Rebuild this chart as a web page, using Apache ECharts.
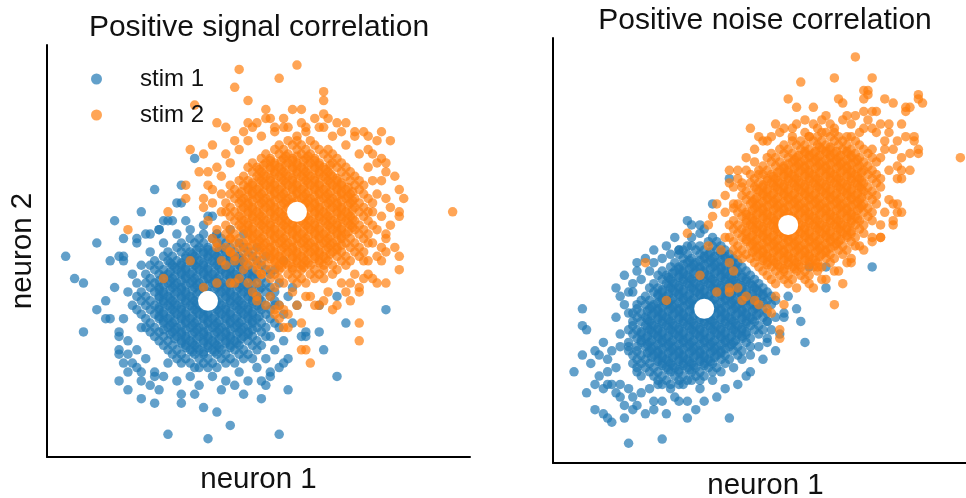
<!DOCTYPE html>
<html>
<head>
<meta charset="utf-8">
<script src="https://cdn.jsdelivr.net/npm/echarts@6/dist/echarts.min.js"></script>
<style>html,body{margin:0;padding:0;background:#fff;}#chart{width:966px;height:498px;}</style>
</head>
<body>
<div id="chart"></div>
<script>
const seriesNames = ['stim 1', 'stim 2'];
const panelTitles = ['Positive signal correlation', 'Positive noise correlation'];
const axisNames = ['neuron 1', 'neuron 2'];
const p1Means = [[0, 0], [20, 20]];
const p2Means = [[0, 0], [20, 20]];

// dense cores: each row is [y, [x values read along that row]]
const p1Stim1Core = [
[-15,[-3,0,2]],
[-14,[-6,-4,-1,1,4,6]],
[-13,[-7,-5,-2,0,3,5,8]],
[-12,[-8,-6,-3,-1,2,4,7,9]],
[-11,[-9,-7,-4,-2,1,3,6,8,11]],
[-10,[-10,-8,-5,-3,0,2,5,7,10,12]],
[-9,[-11,-9,-6,-4,-1,1,4,6,9,11]],
[-8,[-12,-10,-7,-5,-2,0,3,5,8,10,13]],
[-7,[-13,-11,-8,-6,-3,-1,2,4,7,9,12]],
[-6,[-14,-12,-9,-7,-4,-2,1,3,6,8,11,13]],
[-5,[-13,-10,-8,-5,-3,0,2,5,7,10,12,15]],
[-4,[-14,-11,-9,-6,-4,-1,1,4,6,9,11,14]],
[-3,[-15,-12,-10,-7,-5,-2,0,3,5,8,10,13]],
[-2,[-16,-13,-11,-8,-6,-3,-1,2,4,7,9,12,14]],
[-1,[-14,-12,-9,-7,-4,-2,1,3,6,8,11,13,16]],
[0,[-15,-13,-10,-8,-5,-3,0,2,5,7,10,12,15]],
[1,[-16,-14,-11,-9,-6,-4,-1,1,4,6,9,11,14]],
[2,[-15,-12,-10,-7,-5,-2,0,3,5,8,10,13,15]],
[3,[-13,-11,-8,-6,-3,-1,2,4,7,9,12,14]],
[4,[-14,-12,-9,-7,-4,-2,1,3,6,8,11,13]],
[5,[-13,-10,-8,-5,-3,0,2,5,7,10,12]],
[6,[-14,-11,-9,-6,-4,-1,1,4,6,9,11,14]],
[7,[-12,-10,-7,-5,-2,0,3,5,8,10,13]],
[8,[-13,-11,-8,-6,-3,-1,2,4,7,9,12]],
[9,[-12,-9,-7,-4,-2,1,3,6,8,11]],
[10,[-10,-8,-5,-3,0,2,5,7,10]],
[11,[-9,-6,-4,-1,1,4,6,9]],
[12,[-7,-5,-2,0,3,5,8]],
[13,[-6,-3,-1,2,4,7]],
[14,[-4,-2,1,3]],
[15,[-1,2]]
];
const p1Stim1Inner = [
[-11.5,[-3.5,-1,1.5]],
[-10.5,[-5,-2.5,0,2.5,5]],
[-9.5,[-6,-3.5,-1,1.5,4,6.5]],
[-8.5,[-7.5,-5,-2.5,0,2.5,5,7.5]],
[-7.5,[-8.5,-6,-3.5,-1,1.5,4,6.5,9]],
[-6.5,[-10,-7.5,-5,-2.5,0,2.5,5,7.5,10]],
[-5.5,[-8.5,-6,-3.5,-1,1.5,4,6.5,9]],
[-4.5,[-10,-7.5,-5,-2.5,0,2.5,5,7.5,10]],
[-3.5,[-11,-8.5,-6,-3.5,-1,1.5,4,6.5,9,11.5]],
[-2.5,[-10,-7.5,-5,-2.5,0,2.5,5,7.5,10]],
[-1.5,[-11,-8.5,-6,-3.5,-1,1.5,4,6.5,9,11.5]],
[-0.5,[-10,-7.5,-5,-2.5,0,2.5,5,7.5,10]],
[0.5,[-11,-8.5,-6,-3.5,-1,1.5,4,6.5,9,11.5]],
[1.5,[-10,-7.5,-5,-2.5,0,2.5,5,7.5,10]],
[2.5,[-11,-8.5,-6,-3.5,-1,1.5,4,6.5,9,11.5]],
[3.5,[-10,-7.5,-5,-2.5,0,2.5,5,7.5,10]],
[4.5,[-11,-8.5,-6,-3.5,-1,1.5,4,6.5,9]],
[5.5,[-10,-7.5,-5,-2.5,0,2.5,5,7.5,10]],
[6.5,[-8.5,-6,-3.5,-1,1.5,4,6.5,9]],
[7.5,[-7.5,-5,-2.5,0,2.5,5,7.5]],
[8.5,[-8.5,-6,-3.5,-1,1.5,4,6.5]],
[9.5,[-5,-2.5,0,2.5,5,7.5]],
[10.5,[-3.5,-1,1.5,4]],
[11.5,[-2.5,0,2.5]]
];
const p1Stim1Edge = [
[-16,4],[-17,-1],[-15,-6],[-18,-9],[-16,-11],[-14,-13],[-17,-14],[-12,-16],[-10,-17],[-13,-19],
[-7,-18],[-4,-17],[-2,-19],[1,-17],[4,-18],[7,-16],[9,-18],[11,-15],[13,-13],[15,-11],
[14,-8],[16,-6],[17,-3],[15,-1],[18,1],[16,4],[15,7],[13,10],[11,12],[8,15],
[5,16],[2,15],[-1,17],[-4,16],[-7,15],[-10,13],[-13,11],[-15,8],[-17,6],[-18,2],
[-19,-4],[-20,-7],[-15,-16],[-11,-20],[-6,-21],[-2,-15],[3,-20],[6,-19],[10,-13],[12,-18],
[17,-9],[19,-5],[20,-1],[19,3],[17,9],[-14,15],[-11,16],[-8,18],[-19,9],[-21,3],
[-16,13],[-9,-14],[-20,-11],[-18,-16],[8,-21],[14,-16],[21,-8],[-23,0],[-22,-4],[18,-13],
[-32,10],[-30,5],[-28,4],[-25,-2],[-23,-4],[-28,-7],[-22,9],[-19,10],[-20,10],[-20,-8],
[-20,-18],[-18,-20],[-15,-22],[-12,-23],[-12,-17],[-9,-30],[0,-31],[5,-28],[-1,-24],[2,-25],
[-6,-23],[-3,-21],[-19,-14],[-18,-12],[-20,-12],[-16,-15],[-15,-18],
[40,-2],[31,-5],[26,-11],[29,-17],[18,-20],[16,-30],[25,-7],[29,1],[25,-1],[22,-8],
[22,-7],[12,-22],[14,-17],[13,-19],[17,-14],[16,-15],
[-3,32],[-6,26],[-12,25],[-15,20],[-21,18],[-19,14],[-16,14],[-25,13],[-6,22],[-7,22],
[-10,18],[-9,18],[-13,15],[-11,16],[-5,18],[0,19],[1,19]
];

const p1Stim2Core = [
[4,[17,20,22]],
[5,[14,16,19,21,24,26]],
[6,[12,15,18,20,23,25,28]],
[7,[11,14,16,19,21,24,26,29]],
[8,[9,11,13,16,18,21,23,26,28,31]],
[9,[8,10,12,15,17,20,22,25,27,30,32]],
[10,[6,9,11,14,16,19,21,24,26,29,31,34]],
[11,[5,8,10,13,15,18,20,23,25,28,30,33,35]],
[12,[7,9,12,14,17,19,22,24,27,29,32,34]],
[13,[6,8,11,13,16,18,21,23,26,28,31,33,36]],
[14,[5,7,10,12,15,17,20,22,25,27,30,32,35]],
[15,[4,6,9,11,14,16,19,21,24,26,29,31,34,36]],
[16,[5,8,10,13,15,18,20,23,25,28,30,33,35]],
[17,[4,7,9,12,14,17,19,22,24,27,29,32,34,37]],
[18,[6,8,11,13,16,18,21,23,26,28,31,33,36]],
[19,[5,7,10,12,15,17,20,22,25,27,30,32,35]],
[20,[4,6,9,11,14,16,19,21,24,26,29,31,34,36]],
[21,[5,8,10,13,15,18,20,23,25,28,30,33,35]],
[22,[4,7,9,12,14,17,19,22,24,27,29,32,34,37]],
[23,[6,8,11,13,16,18,21,23,26,28,31,33,36]],
[24,[5,7,10,12,15,17,20,22,25,27,30,32,35]],
[25,[6,9,11,14,16,19,21,24,26,29,31,34]],
[26,[5,8,10,13,15,18,20,23,25,28,30,33,35]],
[27,[7,9,12,14,17,19,22,24,27,29,32,34]],
[28,[8,11,13,16,18,21,23,26,28,31,33]],
[29,[10,12,15,17,20,22,25,27,30,32]],
[30,[9,11,14,16,19,21,24,26,29,31]],
[31,[10,13,15,18,20,23,25,28,30]],
[32,[12,14,17,19,22,24,27,29]],
[33,[13,16,18,21,23,26,28]],
[34,[15,17,20,22,25,27]],
[35,[16,19,21,24]],
[36,[18,20,23]]
];
const p1Stim2Inner = [
[7.5,[16.5,19,21.5]],
[8.5,[15,17.5,20,22.5,25]],
[9.5,[14,16.5,19,21.5,24,26.5]],
[10.5,[12.5,15,17.5,20,22.5,25,27.5]],
[11.5,[11.5,14,16.5,19,21.5,24,26.5,29]],
[12.5,[10,12.5,15,17.5,20,22.5,25,27.5,30]],
[13.5,[9,11.5,14,16.5,19,21.5,24,26.5,29]],
[14.5,[10,12.5,15,17.5,20,22.5,25,27.5,30]],
[15.5,[9,11.5,14,16.5,19,21.5,24,26.5,29,31.5]],
[16.5,[7.5,10,12.5,15,17.5,20,22.5,25,27.5,30,32.5]],
[17.5,[9,11.5,14,16.5,19,21.5,24,26.5,29,31.5]],
[18.5,[7.5,10,12.5,15,17.5,20,22.5,25,27.5,30,32.5]],
[19.5,[9,11.5,14,16.5,19,21.5,24,26.5,29,31.5]],
[20.5,[7.5,10,12.5,15,17.5,20,22.5,25,27.5,30,32.5]],
[21.5,[9,11.5,14,16.5,19,21.5,24,26.5,29,31.5]],
[22.5,[7.5,10,12.5,15,17.5,20,22.5,25,27.5,30,32.5]],
[23.5,[9,11.5,14,16.5,19,21.5,24,26.5,29,31.5]],
[24.5,[7.5,10,12.5,15,17.5,20,22.5,25,27.5,30,32.5]],
[25.5,[9,11.5,14,16.5,19,21.5,24,26.5,29,31.5]],
[26.5,[10,12.5,15,17.5,20,22.5,25,27.5,30]],
[27.5,[11.5,14,16.5,19,21.5,24,26.5,29]],
[28.5,[12.5,15,17.5,20,22.5,25,27.5]],
[29.5,[11.5,14,16.5,19,21.5,24,26.5]],
[30.5,[12.5,15,17.5,20,22.5,25,27.5]],
[31.5,[14,16.5,19,21.5,24]],
[32.5,[17.5,20,22.5]]
];
const p1Stim2Edge = [
[3,20],[2,16],[4,12],[1,25],[3,28],[5,31],[7,34],[9,36],[12,37],[15,38],
[18,39],[22,38],[25,39],[28,37],[31,35],[34,33],[36,30],[37,27],[38,24],[37,20],
[38,16],[37,13],[35,9],[33,6],[30,4],[27,2],[23,1],[19,2],[15,3],[11,4],
[8,7],[6,9],[4,8],[0,18],[1,22],[2,30],[6,36],[10,39],[14,41],[24,41],
[29,40],[33,37],[36,34],[39,27],[40,23],[39,19],[40,14],[36,6],[31,2],[26,0],
[20,-1],[14,1],[10,2],[6,4],[3,9],[1,14],[0,26],[4,33],[8,38],[17,41],
[21,40],[27,41],[35,38],[38,31],[41,21],[39,9],[34,3],[28,-2],[17,-2],[12,6],
[5,14],[3,24],[30,38],[20,37],[37,33],
[20,53],[7,52],[16,50],[6,48],[26,47],[-3,44],[9,45],[13,43],[19,43],[21,43],
[26,45],[26,42],[2,40],[4,39],[9,40],[11,40],[13,41],[15,39],[17,39],[22,39],
[26,39],[31,40],[33,38],[39,38],[41,36],[36,37],[38,36],[-4,34],[1,35],[-1,33],
[-2,29],[0,29],[-5,26],[-5,23],[-1,23],[-1,21],[-9,20],[-18,16],[55,20],[42,28],
[43,25],[44,23],[43,20],[43,19],[39,32],[40,31],[40,29],[41,17],[40,15],[39,12],
[42,12],[40,11],[43,10],[43,7],[38,10],[36,9],[35,5],[37,5],[38,4],[40,4],
[34,2],[32,0],[29,-1],[32,4],[34,-5],[34,-9],[24,-1],[25,-1],[22,1],[21,-11],
[23,-14],[22,-11],[21,-5],[18,-6],[18,-3],[16,-1],[15,-3],[13,-1],[11,0],[11,1],
[9,4],[7,5],[5,4],[2,4],[-1,3],[-4,9],[-10,5],[2,12],[5,11],[2,13],
[15,-2],[16,-4],[17,-6]
];

const p2Stim1Core = [
[-18,[-10,-8,-5]],
[-17,[-11,-9,-6,-4,-1]],
[-16,[-15,-12,-10,-7,-5,-2,0]],
[-15,[-16,-13,-11,-8,-6,-3,-1,2]],
[-14,[-16,-14,-12,-9,-7,-4,-2,1,3]],
[-13,[-17,-15,-13,-10,-8,-5,-3,0,2,5]],
[-12,[-16,-14,-11,-9,-6,-4,-1,1,4,6]],
[-11,[-17,-15,-12,-10,-7,-5,-2,0,3,5,8]],
[-10,[-18,-16,-13,-11,-8,-6,-3,-1,2,4,7,9]],
[-9,[-18,-16,-14,-12,-9,-7,-4,-2,1,3,6,8,11]],
[-8,[-18,-15,-13,-10,-8,-5,-3,0,2,5,7,10]],
[-7,[-16,-14,-11,-9,-6,-4,-1,1,4,6,9,11]],
[-6,[-17,-15,-12,-10,-7,-5,-2,0,3,5,8,10,13]],
[-5,[-18,-16,-13,-11,-8,-6,-3,-1,2,4,7,9,12,14]],
[-4,[-17,-14,-12,-9,-7,-4,-2,1,3,6,8,11,13]],
[-3,[-17,-15,-13,-10,-8,-5,-3,0,2,5,7,10,12,15]],
[-2,[-16,-14,-11,-9,-6,-4,-1,1,4,6,9,11,14]],
[-1,[-17,-15,-12,-10,-7,-5,-2,0,3,5,8,10,13,15]],
[0,[-16,-13,-11,-8,-6,-3,-1,2,4,7,9,12,14]],
[1,[-16,-14,-12,-9,-7,-4,-2,1,3,6,8,11,13,16]],
[2,[-15,-13,-10,-8,-5,-3,0,2,5,7,10,12,15,17]],
[3,[-14,-11,-9,-6,-4,-1,1,4,6,9,11,14,16]],
[4,[-12,-10,-7,-5,-2,0,3,5,8,10,13,15]],
[5,[-13,-11,-8,-6,-3,-1,2,4,7,9,12,14]],
[6,[-12,-9,-7,-4,-2,1,3,6,8,11,13]],
[7,[-10,-8,-5,-3,0,2,5,7,10,12]],
[8,[-11,-9,-6,-4,-1,1,4,6,9,11]],
[9,[-10,-7,-5,-2,0,3,5,8,10]],
[10,[-8,-6,-3,-1,2,4,7,9]],
[11,[-7,-4,-2,1,3,6,8]],
[12,[-5,-3,0,2,5,7]],
[13,[-6,-4,-1,1,4,6]],
[14,[-5,-2,0,3,5]],
[15,[-3,-1,2,4]],
[16,[1,3]],
[17,[2]]
];
const p2Stim1Inner = [
[-14.5,[-8.5,-6,-3.5]],
[-13.5,[-10,-7.5,-5,-2.5,0]],
[-12.5,[-11,-8.5,-6,-3.5,-1,1.5]],
[-11.5,[-12.5,-10,-7.5,-5,-2.5,0,2.5]],
[-10.5,[-13.5,-11,-8.5,-6,-3.5,-1,1.5,4]],
[-9.5,[-12.5,-10,-7.5,-5,-2.5,0,2.5,5]],
[-8.5,[-13.5,-11,-8.5,-6,-3.5,-1,1.5,4,6.5]],
[-7.5,[-15,-12.5,-10,-7.5,-5,-2.5,0,2.5,5,7.5]],
[-6.5,[-13.5,-11,-8.5,-6,-3.5,-1,1.5,4,6.5,9]],
[-5.5,[-15,-12.5,-10,-7.5,-5,-2.5,0,2.5,5,7.5,10]],
[-4.5,[-13.5,-11,-8.5,-6,-3.5,-1,1.5,4,6.5,9]],
[-3.5,[-12.5,-10,-7.5,-5,-2.5,0,2.5,5,7.5,10]],
[-2.5,[-13.5,-11,-8.5,-6,-3.5,-1,1.5,4,6.5,9,11.5]],
[-1.5,[-12.5,-10,-7.5,-5,-2.5,0,2.5,5,7.5,10,12.5]],
[-0.5,[-13.5,-11,-8.5,-6,-3.5,-1,1.5,4,6.5,9,11.5]],
[0.5,[-12.5,-10,-7.5,-5,-2.5,0,2.5,5,7.5,10,12.5]],
[1.5,[-11,-8.5,-6,-3.5,-1,1.5,4,6.5,9,11.5,14]],
[2.5,[-10,-7.5,-5,-2.5,0,2.5,5,7.5,10,12.5]],
[3.5,[-11,-8.5,-6,-3.5,-1,1.5,4,6.5,9,11.5,14]],
[4.5,[-10,-7.5,-5,-2.5,0,2.5,5,7.5,10,12.5]],
[5.5,[-8.5,-6,-3.5,-1,1.5,4,6.5,9,11.5]],
[6.5,[-7.5,-5,-2.5,0,2.5,5,7.5,10]],
[7.5,[-8.5,-6,-3.5,-1,1.5,4,6.5,9]],
[8.5,[-7.5,-5,-2.5,0,2.5,5,7.5]],
[9.5,[-6,-3.5,-1,1.5,4,6.5]],
[10.5,[-5,-2.5,0,2.5,5,7.5]],
[11.5,[-3.5,-1,1.5,4,6.5]],
[12.5,[0,2.5,5]],
[13.5,[1.5,4]]
];
const p2Stim1Edge = [
[-22,-18],[-20,-21],[-24,-19],[-19,-23],[-25,-16],[-27,-13],[-23,-12],[-21,-14],[-18,-19],[-15,-20],
[-13,-19],[-11,-18],[-8,-19],[-6,-18],[-3,-17],[-1,-19],[2,-17],[4,-15],[7,-14],[9,-12],
[11,-11],[13,-9],[15,-8],[16,-5],[17,-2],[-20,-6],[-21,-2],[-19,1],[-18,-1],[-20,-9],
[-22,-10],[-17,6],[-15,7],[-13,9],[-12,11],[-10,12],[-8,13],[-6,14],[-7,17],[-3,17],
[-1,18],[-14,12],[-12,14],[-19,8],[-16,9],[-24,-8],[-26,-18],[-28,-20],[-29,-11],[-12,-22],
[-7,-21],[0,-22],[8,-18],[10,-16],[14,-12],[17,-10],[18,-6],[-10,-22],[-23,-26],[-2,-24],
[-31,-15],[-18,-32],[-10,-31],[-29,0],[-29,-4],[-28,-5],[-26,-10],[-25,-11],[-21,5],[-20,3],
[-18,4],[-17,4],[-16,11],[-26,-24],[-24,-25],[-22,-27],[-19,-26],[6,-26],[11,-15],[-4,-26],
[-17,-21],[-14,-25],[-12,-24],[-9,-25],[-6,-22],[-4,-22],[3,-21],[5,-19],[-23,-15],[-23,-18],
[-20,-18],[-21,-20],[-17,-24],[-16,-23],[-9,15],[-4,21],[-3,20],[2,25],[6,31],[40,10],
[29,5],[24,-8],[23,-3],[22,0],[19,-1],[15,-3],[25,10],[29,10],[20,3],[15,-7],
[19,-2],[-1,20],[0,19],[-6,14],[-4,15]
];

const p2Stim2Core = [
[6,[17,20]],
[7,[16,19,21,24]],
[8,[15,18,20,23,25]],
[9,[14,17,19,22,24,27]],
[10,[13,16,18,21,23,26,28]],
[11,[12,15,17,20,22,25,27,30]],
[12,[9,11,14,16,19,21,24,26,29,31]],
[13,[8,10,13,15,18,20,23,25,28,30,33]],
[14,[7,9,12,14,17,19,22,24,27,29,32,34]],
[15,[8,11,13,16,18,21,23,26,28,31,33,36]],
[16,[7,10,12,15,17,20,22,25,27,30,32,35]],
[17,[6,9,11,14,16,19,21,24,26,29,31,34,36]],
[18,[8,10,13,15,18,20,23,25,28,30,33,35,38]],
[19,[7,9,12,14,17,19,22,24,27,29,32,34,37]],
[20,[6,8,11,13,16,18,21,23,26,28,31,33,36,38]],
[21,[7,10,12,15,17,20,22,25,27,30,32,35,37,40]],
[22,[9,11,14,16,19,21,24,26,29,31,34,36,39]],
[23,[8,10,13,15,18,20,23,25,28,30,33,35,38,40]],
[24,[7,9,12,14,17,19,22,24,27,29,32,34,37,39]],
[25,[8,11,13,16,18,21,23,26,28,31,33,36,38,41]],
[26,[10,12,15,17,20,22,25,27,30,32,35,37,40]],
[27,[9,11,14,16,19,21,24,26,29,31,34,36,39,41]],
[28,[10,13,15,18,20,23,25,28,30,33,35,38,40]],
[29,[9,12,14,17,19,22,24,27,29,32,34,37,39,42]],
[30,[11,13,16,18,21,23,26,28,31,33,36,38,41]],
[31,[12,15,17,20,22,25,27,30,32,35,37,40,42]],
[32,[11,14,16,19,21,24,26,29,31,34,36,39,41]],
[33,[13,15,18,20,23,25,28,30,33,35,38,40]],
[34,[14,17,19,22,24,27,29,32,34,37,39]],
[35,[16,18,21,23,26,28,31,33,36,38,41]],
[36,[15,17,20,22,25,27,30,32,35,37,40]],
[37,[16,19,21,24,26,29,31,34,36,39]],
[38,[18,20,23,25,28,30,33,35,38]],
[39,[19,22,24,27,29,32,34,37]],
[40,[21,23,26,28,31,33,36]],
[41,[25,27,30,32,35]],
[42,[29,31]]
];
const p2Stim2Inner = [
[9.5,[19,21.5]],
[10.5,[15,17.5,20,22.5,25]],
[11.5,[14,16.5,19,21.5,24,26.5]],
[12.5,[12.5,15,17.5,20,22.5,25,27.5]],
[13.5,[11.5,14,16.5,19,21.5,24,26.5,29]],
[14.5,[12.5,15,17.5,20,22.5,25,27.5,30]],
[15.5,[11.5,14,16.5,19,21.5,24,26.5,29,31.5]],
[16.5,[10,12.5,15,17.5,20,22.5,25,27.5,30,32.5]],
[17.5,[11.5,14,16.5,19,21.5,24,26.5,29,31.5,34]],
[18.5,[10,12.5,15,17.5,20,22.5,25,27.5,30,32.5,35]],
[19.5,[11.5,14,16.5,19,21.5,24,26.5,29,31.5,34]],
[20.5,[10,12.5,15,17.5,20,22.5,25,27.5,30,32.5,35]],
[21.5,[11.5,14,16.5,19,21.5,24,26.5,29,31.5,34,36.5]],
[22.5,[10,12.5,15,17.5,20,22.5,25,27.5,30,32.5,35]],
[23.5,[11.5,14,16.5,19,21.5,24,26.5,29,31.5,34,36.5]],
[24.5,[12.5,15,17.5,20,22.5,25,27.5,30,32.5,35,37.5]],
[25.5,[11.5,14,16.5,19,21.5,24,26.5,29,31.5,34,36.5]],
[26.5,[12.5,15,17.5,20,22.5,25,27.5,30,32.5,35,37.5]],
[27.5,[14,16.5,19,21.5,24,26.5,29,31.5,34,36.5]],
[28.5,[12.5,15,17.5,20,22.5,25,27.5,30,32.5,35,37.5]],
[29.5,[14,16.5,19,21.5,24,26.5,29,31.5,34,36.5]],
[30.5,[15,17.5,20,22.5,25,27.5,30,32.5,35,37.5]],
[31.5,[16.5,19,21.5,24,26.5,29,31.5,34,36.5]],
[32.5,[17.5,20,22.5,25,27.5,30,32.5,35,37.5]],
[33.5,[19,21.5,24,26.5,29,31.5,34,36.5]],
[34.5,[20,22.5,25,27.5,30,32.5,35]],
[35.5,[21.5,24,26.5,29,31.5,34,36.5]],
[36.5,[22.5,25,27.5,30,32.5,35]],
[37.5,[24,26.5,29,31.5,34]],
[38.5,[27.5,30]]
];
const p2Stim2Edge = [
[36,60],[31,55],[23,54],[40,55],[39,52],[39,51],[38,50],[20,50],[22,48],[26,48],
[32,50],[33,49],[43,50],[45,49],[51,51],[52,49],[48,48],[48,47],[61,36],[50,41],
[51,38],[49,37],[49,33],[47,33],[46,31],[45,25],[46,23],[45,20],[42,17],[21,43],
[24,45],[28,45],[27,43],[34,46],[38,47],[40,47],[41,47],[16,41],[14,40],[46,34],
[47,31],[11,43],[13,41],[12,35],[10,33],[6,33],[8,31],[7,29],[9,30],[7,25],
[3,25],[2,22],[5,23],[-4,18],[-14,11],[-9,2],[-1,8],[3,4],[6,5],[7,9],
[8,5],[10,3],[12,2],[13,1],[15,0],[16,-1],[18,-5],[18,-7],[19,1],[17,3],
[31,1],[33,6],[28,7],[27,10],[31,9],[34,11],[35,12],[37,15],[40,16],[42,17],
[45,21],[47,23],[46,25],[44,26],[51,37],[50,40],[48,41],[51,50],[49,48],[38,52],
[13,32],[10,36],[12,38],[15,40],[18,42],[21,41],[24,42],[8,33],[6,30],[5,27],
[1,20],[26,5],[29,7],[32,9],[35,11],[38,14],[40,17],[42,20],[43,23],[40,38],
[42,36],[44,33],[43,40],[41,42],[38,43],[35,44],[30,44],[45,38],[47,36],[44,44],
[6,4],[9,2],[1,15],[25,41],[28,42],[31,43],[34,41],
[37,42],[40,43],[42,44],[44,42],[46,40],[43,38],[47,44],[29,46],[33,45],[36,46],
[26,44],[22,44],[19,43],[17,44],[39,45],[5,17],[4,14],[6,11],[22,5],[25,6]
];

function rowsToPoints(rows) {
  const out = [];
  rows.forEach(function (r) { r[1].forEach(function (x) { out.push([x, r[0]]); }); });
  return out;
}
const p1Stim1 = rowsToPoints(p1Stim1Core).concat(rowsToPoints(p1Stim1Inner), p1Stim1Edge);
const p1Stim2 = rowsToPoints(p1Stim2Core).concat(rowsToPoints(p1Stim2Inner), p1Stim2Edge);
const p2Stim1 = rowsToPoints(p2Stim1Core).concat(rowsToPoints(p2Stim1Inner), p2Stim1Edge);
const p2Stim2 = rowsToPoints(p2Stim2Core).concat(rowsToPoints(p2Stim2Inner), p2Stim2Edge);

const FONT = '"Liberation Sans", Arial, Helvetica, sans-serif';
const BLUE = '#1f77b4';
const ORANGE = '#ff7f0e';

function axisBase(min, max) {
  return {
    type: 'value', min: min, max: max,
    splitLine: { show: false }, axisTick: { show: false }, axisLabel: { show: false },
    axisLine: { show: true, onZero: false, lineStyle: { color: '#000', width: 2 } }
  };
}
function scatter(name, data, color, gi) {
  return {
    type: 'scatter', name: name, data: data, xAxisIndex: gi, yAxisIndex: gi,
    symbol: 'circle', symbolSize: 9.5, itemStyle: { color: color, opacity: 0.7 },
    emphasis: { disabled: true }, large: false, progressive: 0, z: 2
  };
}
function means(data, gi) {
  return {
    type: 'scatter', name: 'mean', data: data, xAxisIndex: gi, yAxisIndex: gi,
    symbol: 'circle', symbolSize: 20, itemStyle: { color: '#ffffff', opacity: 1 },
    emphasis: { disabled: true }, z: 5
  };
}

const chart = echarts.init(document.getElementById('chart'), null, { renderer: 'canvas' });
const labelStyle = { fontSize: 29.5, fontFamily: FONT, color: '#111' };
const x1 = axisBase(-36.2, 58.9);
x1.name = axisNames[0]; x1.nameLocation = 'middle'; x1.nameGap = 8;
x1.nameTextStyle = Object.assign({ verticalAlign: 'top' }, labelStyle);
const y1 = axisBase(-35.1, 57.5);
y1.name = axisNames[1]; y1.nameLocation = 'middle'; y1.nameGap = 9; y1.nameRotate = 90;
y1.nameTextStyle = Object.assign({ verticalAlign: 'bottom' }, labelStyle);
const x2 = axisBase(-36.0, 65.2);
x2.name = axisNames[0]; x2.nameLocation = 'middle'; x2.nameGap = 8;
x2.nameTextStyle = Object.assign({ verticalAlign: 'top' }, labelStyle);
const y2 = axisBase(-36.7, 64.5);

chart.setOption({
  animation: false,
  backgroundColor: '#fff',
  title: [
    { text: panelTitles[0], left: 254, top: 8, textAlign: 'center',
      textStyle: { fontSize: 30, fontWeight: 'normal', fontFamily: FONT, color: '#111' } },
    { text: panelTitles[1], left: 760, top: 1, textAlign: 'center',
      textStyle: { fontSize: 30, fontWeight: 'normal', fontFamily: FONT, color: '#111' } }
  ],
  legend: {
    data: seriesNames, orient: 'vertical', left: 86, top: 62,
    itemWidth: 11, itemHeight: 11, itemGap: 12, icon: 'circle',
    textStyle: { fontSize: 24, fontFamily: FONT, color: '#111', padding: [0, 0, 0, 33] }
  },
  grid: [
    { left: 47, top: 45, width: 423, height: 412, containLabel: false, outerBoundsMode: 'none' },
    { left: 553, top: 38, width: 425, height: 425, containLabel: false, outerBoundsMode: 'none' }
  ],
  xAxis: [Object.assign({ gridIndex: 0 }, x1), Object.assign({ gridIndex: 1 }, x2)],
  yAxis: [Object.assign({ gridIndex: 0 }, y1), Object.assign({ gridIndex: 1 }, y2)],
  series: [
    scatter(seriesNames[0], p1Stim1, BLUE, 0),
    scatter(seriesNames[1], p1Stim2, ORANGE, 0),
    means(p1Means, 0),
    scatter(seriesNames[0], p2Stim1, BLUE, 1),
    scatter(seriesNames[1], p2Stim2, ORANGE, 1),
    means(p2Means, 1)
  ]
});
</script>
</body>
</html>
